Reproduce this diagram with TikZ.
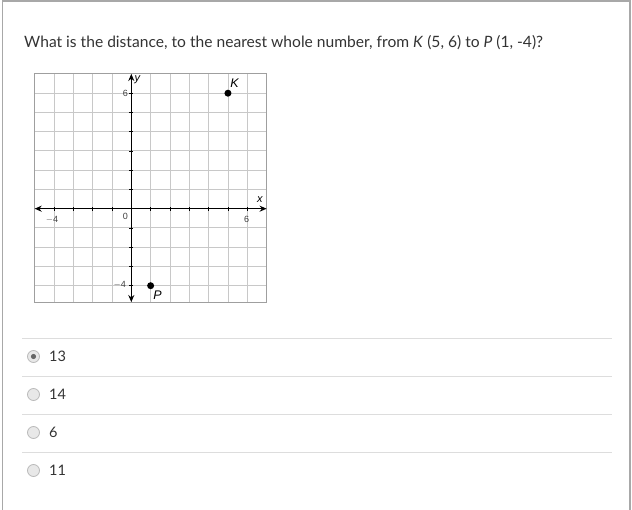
\documentclass[tikz,border=0pt]{standalone}
\usepackage{fontspec}
\setmainfont{Lato}
\setsansfont{Liberation Sans}
\usetikzlibrary{positioning,arrows.meta}
\definecolor{textgray}{HTML}{333333}
\definecolor{framegray}{HTML}{A8A8A8}
\definecolor{rulegray}{HTML}{DDDDDD}
\definecolor{gridgray}{HTML}{C8C8C8}

\begin{document}
\begin{tikzpicture}[x=1pt,y=-1pt,
    grid line/.style={draw=gridgray,line width=0.9pt},
    grid box/.style={draw=gray!75,line width=1.1pt},
    axis/.style={line width=1.2pt,{Stealth[length=7pt,width=6pt]}-{Stealth[length=7pt,width=6pt]}},
    tick label/.style={font=\sffamily\fontsize{9}{10}\selectfont,text=black!75,inner sep=1pt},
    axis label/.style={font=\sffamily\itshape\fontsize{11}{12}\selectfont,inner sep=1pt},
    point label/.style={font=\sffamily\itshape\fontsize{12.5}{13}\selectfont,inner sep=1pt},
    point/.style={circle,fill=black,inner sep=0pt,minimum size=7pt},
    radio/.style={circle,draw=gray!55,fill=gray!18,line width=0.8pt,inner sep=0pt,minimum size=12pt},
    answer/.style={font=\fontsize{14.5}{16}\selectfont,text=textgray,inner sep=0pt},
    separator/.style={draw=rulegray,line width=0.9pt}]
    \useasboundingbox (0,0) rectangle (632,510);
    % frame
    \draw[framegray,line width=1.2pt] (2.5,510) -- (2.5,1) -- (630,1) -- (630,510);
    % question
    \node[anchor=base west,inner sep=0pt,text=textgray,font=\fontsize{15.6}{18}\selectfont] (question) at (24,48)
        {What is the distance, to the nearest whole number, from \textit{K} (5, 6) to \textit{P} (1, -4)?};

    % coordinate grid
    \begin{scope}[shift={(131.3,208.7)},x=19.33pt,y=19.25pt]
        \foreach \i in {-4,...,6}
            \draw[grid line] (\i,-4.85) -- (\i,7);
        \foreach \j in {-4,...,6}
            \draw[grid line] (-5,\j) -- (7,\j);
        \draw[grid box] (-5,-4.85) rectangle (7,7);
        \draw[axis] (-5,0) -- (7,0);
        \draw[axis] (0,-4.85) -- (0,7);
        \foreach \i in {-4,...,6}
            \draw[line width=0.8pt] (\i,-0.1) -- (\i,0.1);
        \foreach \j in {-4,...,6}
            \draw[line width=0.8pt] (-0.1,\j) -- (0.1,\j);
        \node[tick label] (y6) at (-0.3,6) {6};
        \node[tick label] (zero) at (-0.3,-0.4) {0};
        \node[tick label] (ym4) at (-0.6,-3.95) {$-$4};
        \node[tick label] (xm4) at (-4.1,-0.59) {$-$4};
        \node[tick label] (x6) at (5.96,-0.55) {6};
        \node[axis label] (ylab) at (0.32,6.72) {y};
        \node[axis label] (xlab) at (6.65,0.45) {x};
        \node[point] (K) at (5,6) {};
        \node[point] (P) at (1,-4) {};
        \node[point label] (Klab) at (5.34,6.53) {K};
        \node[point label] (Plab) at (1.36,-4.48) {P};
    \end{scope}

    % answer choices
    \draw[separator] (22,338.3) -- (612,338.3);
    \draw[separator] (22,376.3) -- (612,376.3);
    \draw[separator] (22,414.3) -- (612,414.3);
    \draw[separator] (22,452.3) -- (612,452.3);
    \node[radio] (r1) at (33.5,356.5) {};
    \fill[gray!80!black] (r1) circle (2.6pt);
    \node[radio] (r2) at (33.5,394.5) {};
    \node[radio] (r3) at (33.5,432.5) {};
    \node[radio] (r4) at (33.5,470.5) {};
    \node[answer] (a1) [right=9pt of r1] {13};
    \node[answer] (a2) [right=9pt of r2] {14};
    \node[answer] (a3) [right=9pt of r3] {6};
    \node[answer] (a4) [right=9pt of r4] {11};
\end{tikzpicture}
\end{document}
